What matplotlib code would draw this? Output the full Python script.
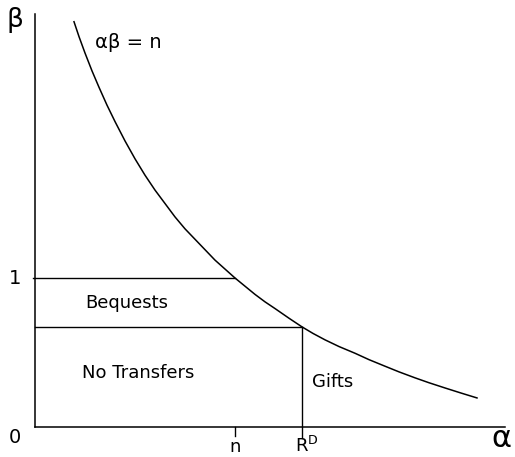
import matplotlib.pyplot as plt

# curve alpha*beta = n (alpha in units of n)
curve_alpha = [0.195, 0.22, 0.25, 0.285, 0.32, 0.36, 0.40, 0.45, 0.50, 0.55,
               0.60, 0.65, 0.70, 0.75, 0.80, 0.85, 0.90, 0.95, 1.00, 1.05,
               1.10, 1.15, 1.20, 1.27, 1.335, 1.39, 1.45, 1.52, 1.60, 1.67,
               1.75, 1.82, 1.90, 1.97, 2.05, 2.13, 2.21]
curve_beta = [2.72, 2.62, 2.51, 2.39, 2.28, 2.16, 2.05, 1.92, 1.80, 1.69,
              1.59, 1.50, 1.41, 1.33, 1.26, 1.19, 1.12, 1.06, 1.00, 0.945,
              0.89, 0.84, 0.795, 0.73, 0.672, 0.628, 0.585, 0.54, 0.495, 0.452,
              0.408, 0.37, 0.33, 0.297, 0.262, 0.228, 0.195]

n_alpha = 1.0        # where curve meets beta = 1
rd_alpha = 1.335     # R^D
rd_beta = 0.672

region_labels = ["Bequests", "No Transfers", "Gifts"]

plt.rcParams['mathtext.fontset'] = 'dejavusans'

fig = plt.figure(figsize=(5.15, 4.57), dpi=100)
ax = fig.add_axes([0, 0, 1, 1])
# pixel box: origin at (35, 427), n at x=235, beta=1 at y=278
ax.set_xlim(-35 / 200, 480 / 200)
ax.set_ylim(-30 / 149, 427 / 149)
ax.axis('off')

lw = 1.1
k = 'black'

# axes
ax.plot([0, 0], [0, 2.77], color=k, lw=lw)
ax.plot([0, 2.35], [0, 0], color=k, lw=lw)

# curve
ax.plot(curve_alpha, curve_beta, color=k, lw=lw)

# beta = 1 line and lower boundary
ax.plot([-0.012, n_alpha], [1, 1], color=k, lw=lw * 0.9)
ax.plot([0, rd_alpha], [rd_beta, rd_beta], color=k, lw=lw * 0.9)
ax.plot([rd_alpha, rd_alpha], [rd_beta, -0.075], color=k, lw=lw * 0.9)
ax.plot([n_alpha, n_alpha], [0, -0.06], color=k, lw=lw * 0.9)

# labels
ax.text(-0.1, 2.73, "β", fontsize=19, ha='center', va='center')
ax.text(0.30, 2.58, "αβ = n", fontsize=14, ha='left', va='center')
ax.text(-0.1, 1.0, "1", fontsize=14, ha='center', va='center')
ax.text(-0.1, -0.07, "0", fontsize=14, ha='center', va='center')
ax.text(2.33, -0.08, "α", fontsize=22, ha='center', va='center')

ax.text(0.25, 0.83, region_labels[0], fontsize=13, ha='left', va='center')
ax.text(0.235, 0.36, region_labels[1], fontsize=13, ha='left', va='center')
ax.text(1.385, 0.30, region_labels[2], fontsize=13, ha='left', va='center')

ax.text(n_alpha, -0.168, "n", fontsize=13, ha='center', va='baseline')
ax.text(rd_alpha - 0.035, -0.168, r"R$^{\mathrm{D}}$", fontsize=13,
        ha='left', va='baseline')

fig.savefig("out.png", dpi=100)
